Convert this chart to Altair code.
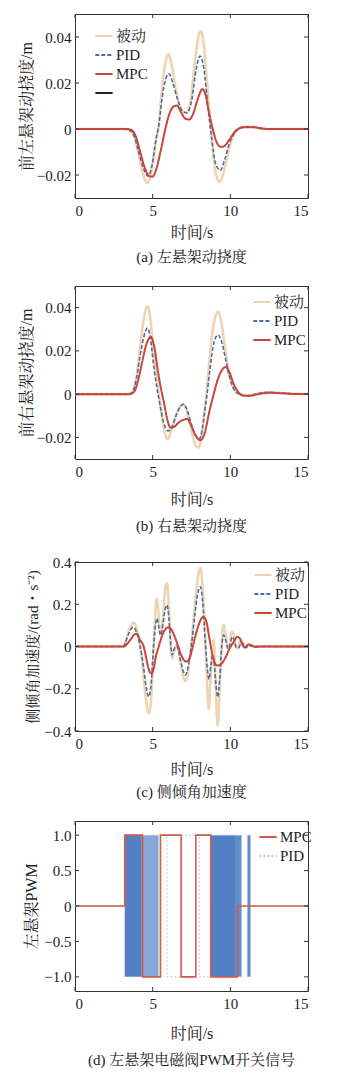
import altair as alt
import pandas as pd

FONT = "Liberation Serif, 'Noto Serif CJK SC', 'Noto Sans CJK SC', serif"

C_PASSIVE = "#edd5b4"
C_PID = "#4f6c9f"
C_MPC = "#c8463c"

X_TICKS = [0, 5, 10, 15]

# ---------- (a) 左悬架动挠度 ----------
A_PASSIVE = [(0, 0), (3.0, 0), (3.5, -0.0005), (3.8, -0.003), (4.1, -0.011), (4.4, -0.02), (4.65, -0.0235),
             (4.9, -0.019), (5.2, -0.006), (5.4, 0.002), (5.6, 0.018), (5.8, 0.028), (6.0, 0.0325), (6.25, 0.027),
             (6.5, 0.017), (6.8, 0.009), (7.15, 0.0072), (7.45, 0.013), (7.75, 0.031), (8.0, 0.0418), (8.1, 0.0425),
             (8.3, 0.036), (8.5, 0.02), (8.75, 0.0), (9.0, -0.017), (9.3, -0.023), (9.6, -0.018), (9.9, -0.009),
             (10.2, -0.003), (10.5, 0.0), (10.8, 0.0008), (11.3, 0.001), (12.0, 0.0003), (12.5, 0), (15, 0)]
A_PID = [(0, 0), (3.0, 0), (3.5, -0.0005), (3.8, -0.003), (4.1, -0.010), (4.4, -0.017), (4.7, -0.0205),
         (4.95, -0.016), (5.2, -0.005), (5.4, 0.002), (5.6, 0.013), (5.85, 0.022), (6.05, 0.024), (6.3, 0.020),
         (6.6, 0.013), (6.9, 0.008), (7.2, 0.007), (7.5, 0.012), (7.8, 0.026), (8.05, 0.0317), (8.3, 0.026),
         (8.55, 0.01), (8.8, -0.004), (9.05, -0.015), (9.35, -0.018), (9.65, -0.013), (9.95, -0.006),
         (10.3, -0.0015), (10.6, 0.0003), (11.0, 0.001), (11.5, 0.0008), (12.2, 0.0002), (12.6, 0), (15, 0)]
A_MPC = [(0, 0), (3.3, 0), (3.6, -0.0003), (3.9, -0.003), (4.2, -0.01), (4.5, -0.017), (4.8, -0.0205),
         (5.0, -0.0207), (5.25, -0.017), (5.5, -0.01), (5.75, -0.002), (5.85, 0.001), (6.1, 0.007),
         (6.35, 0.0098), (6.55, 0.0102), (6.85, 0.007), (7.1, 0.0045), (7.35, 0.0041), (7.6, 0.0065),
         (7.9, 0.013), (8.2, 0.0173), (8.4, 0.015), (8.6, 0.008), (8.87, 0.0), (9.1, -0.0055), (9.4, -0.0078),
         (9.65, -0.0072), (9.95, -0.0045), (10.25, -0.0015), (10.5, 0), (10.9, 0.0008), (11.5, 0.0008),
         (12.0, 0.0002), (12.5, 0), (15, 0)]
A_YTICKS = [-0.02, 0, 0.02, 0.04]

# ---------- (b) 右悬架动挠度 ----------
B_PASSIVE = [(0, 0), (3.4, 0), (3.7, 0.001), (3.95, 0.008), (4.2, 0.022), (4.45, 0.036), (4.66, 0.0405),
             (4.85, 0.035), (5.05, 0.020), (5.25, 0.008), (5.45, -0.003), (5.7, -0.015), (5.95, -0.0208),
             (6.2, -0.017), (6.5, -0.010), (6.8, -0.0055), (7.0, -0.0047), (7.2, -0.008), (7.5, -0.017),
             (7.75, -0.0235), (7.97, -0.0247), (8.15, -0.019), (8.3, -0.01), (8.46, 0.0), (8.65, 0.015),
             (8.85, 0.029), (9.05, 0.036), (9.21, 0.0382), (9.4, 0.034), (9.65, 0.022), (9.9, 0.010),
             (10.2, 0.003), (10.6, 0.0), (10.9, -0.0008), (11.3, -0.0006), (11.8, 0.0003), (12.5, 0.0008),
             (13.3, 0.0005), (14.0, 0.0002), (15, 0)]
B_PID = [(0, 0), (3.4, 0), (3.7, 0.001), (3.95, 0.007), (4.2, 0.018), (4.45, 0.027), (4.66, 0.0305),
         (4.85, 0.026), (5.05, 0.014), (5.25, 0.004), (5.45, -0.004), (5.7, -0.013), (6.0, -0.017),
         (6.25, -0.015), (6.5, -0.010), (6.8, -0.0055), (7.0, -0.0047), (7.2, -0.007), (7.5, -0.014),
         (7.8, -0.0195), (8.0, -0.0208), (8.2, -0.016), (8.35, -0.008), (8.5, 0.0), (8.7, 0.012),
         (8.95, 0.024), (9.21, 0.0274), (9.45, 0.024), (9.7, 0.016), (9.95, 0.008), (10.25, 0.002),
         (10.55, 0.0), (10.9, -0.0008), (11.3, -0.0006), (11.8, 0.0003), (12.5, 0.0008), (13.3, 0.0005),
         (14.0, 0.0002), (15, 0)]
B_MPC = [(0, 0), (3.5, 0), (3.8, 0.001), (4.05, 0.006), (4.3, 0.014), (4.55, 0.022), (4.88, 0.0265),
         (5.1, 0.022), (5.35, 0.010), (5.55, 0.002), (5.73, -0.004), (5.95, -0.012), (6.15, -0.0155),
         (6.4, -0.015), (6.7, -0.013), (7.0, -0.0118), (7.22, -0.0115), (7.45, -0.014), (7.75, -0.019),
         (8.08, -0.0213), (8.35, -0.018), (8.65, -0.008), (8.93, 0.0), (9.2, 0.007), (9.45, 0.011),
         (9.7, 0.0125), (9.95, 0.010), (10.2, 0.005), (10.5, 0.001), (10.8, -0.0005), (11.2, -0.0008),
         (11.8, 0.0), (12.5, 0.0006), (13.3, 0.0004), (14.0, 0.0001), (15, 0)]
B_YTICKS = [-0.02, 0, 0.02, 0.04]

# ---------- (c) 侧倾角加速度 ----------
C_PASSIVE_PTS = [(0, 0), (3.1, 0), (3.25, 0.02), (3.45, 0.07), (3.65, 0.105), (3.78, 0.113), (3.95, 0.09),
                 (4.15, 0.02), (4.35, -0.09), (4.55, -0.24), (4.74, -0.316), (4.9, -0.25), (5.06, 0.0),
                 (5.18, 0.17), (5.26, 0.225), (5.36, 0.17), (5.48, 0.075), (5.56, 0.062), (5.68, 0.15),
                 (5.82, 0.28), (5.92, 0.299), (6.02, 0.22), (6.15, 0.03), (6.25, -0.056), (6.38, -0.02),
                 (6.55, 0.007), (6.72, -0.04), (6.9, -0.12), (7.1, -0.163), (7.3, -0.11), (7.5, 0.02),
                 (7.7, 0.18), (7.9, 0.32), (8.07, 0.37), (8.22, 0.28), (8.38, 0.05), (8.5, -0.17),
                 (8.61, -0.295), (8.72, -0.17), (8.85, 0.0), (8.93, 0.03), (9.02, -0.1), (9.1, -0.28),
                 (9.19, -0.372), (9.3, -0.22), (9.45, 0.02), (9.57, 0.102), (9.7, 0.06), (9.85, -0.005),
                 (9.95, 0.01), (10.1, 0.07), (10.2, 0.06), (10.35, 0.0), (10.5, -0.01), (10.65, 0.03),
                 (10.8, 0.02), (11.0, -0.005), (11.2, 0.008), (11.5, 0.002), (12.0, 0), (15, 0)]
C_PID_PTS = [(0, 0), (3.1, 0), (3.25, 0.02), (3.45, 0.06), (3.65, 0.087), (3.78, 0.091), (3.95, 0.07),
             (4.2, 0.0), (4.4, -0.09), (4.58, -0.19), (4.74, -0.238), (4.9, -0.18), (5.06, 0.0), (5.18, 0.1),
             (5.28, 0.133), (5.4, 0.09), (5.5, 0.054), (5.65, 0.1), (5.8, 0.175), (5.92, 0.196), (6.05, 0.13),
             (6.17, 0.0), (6.25, -0.04), (6.4, -0.01), (6.55, 0.002), (6.72, -0.04), (6.9, -0.1),
             (7.1, -0.135), (7.3, -0.09), (7.5, 0.01), (7.7, 0.14), (7.9, 0.25), (8.07, 0.283), (8.22, 0.21),
             (8.38, 0.03), (8.5, -0.09), (8.63, -0.155), (8.75, -0.09), (8.87, -0.04), (8.95, -0.07),
             (9.05, -0.16), (9.2, -0.24), (9.32, -0.15), (9.45, 0.0), (9.57, 0.054), (9.7, 0.03),
             (9.85, -0.01), (9.97, 0.005), (10.12, 0.045), (10.25, 0.03), (10.4, -0.005), (10.55, -0.005),
             (10.7, 0.02), (10.85, 0.01), (11.0, -0.005), (11.2, 0.005), (11.5, 0.0), (15, 0)]
C_MPC_PTS = [(0, 0), (3.15, 0), (3.35, 0.012), (3.6, 0.035), (3.8, 0.055), (3.95, 0.06), (4.2, 0.03),
             (4.42, 0.0), (4.6, -0.06), (4.78, -0.115), (4.91, -0.127), (5.05, -0.11), (5.2, -0.05),
             (5.39, 0.0), (5.6, 0.05), (5.8, 0.08), (5.97, 0.09), (6.15, 0.085), (6.4, 0.05), (6.65, 0.0),
             (6.9, -0.05), (7.15, -0.072), (7.35, -0.06), (7.55, -0.01), (7.75, 0.05), (8.0, 0.11),
             (8.25, 0.141), (8.45, 0.12), (8.65, 0.04), (8.85, -0.04), (9.05, -0.085), (9.2, -0.09),
             (9.45, -0.08), (9.7, -0.05), (9.95, -0.01), (10.2, 0.02), (10.45, 0.046), (10.6, 0.04),
             (10.8, 0.005), (10.95, -0.005), (11.15, 0.01), (11.35, 0.006), (11.6, -0.002), (12.0, 0), (15, 0)]
C_YTICKS = [-0.4, -0.2, 0, 0.2, 0.4]

# ---------- (d) 左悬架电磁阀PWM开关信号 ----------
D_MPC_T = [0, 3.2, 4.35, 5.5, 6.83, 7.78, 8.75, 10.45, 15]
D_MPC_V = [0, 1, -1, 1, -1, 1, -1, 0, 0]
D_PID_T = [0, 3.2, 5.38, 5.92, 6.88, 8.0, 8.7, 10.72, 11.1, 11.3, 15]
D_PID_V = [0, 1, 1, -1, 1, -1, 1, 0, 1, 0, 0]
# dense PID switching regions (start, end, shade)
D_BAND_START = [3.2, 4.37, 8.7, 10.3, 11.1]
D_BAND_END = [4.3, 5.38, 10.3, 10.72, 11.3]
D_BAND_SHADE = ["dark", "light", "dark", "mid", "mid"]
D_YTICKS = [-1.0, -0.5, 0, 0.5, 1.0]


def axis_x(tpad):
    return alt.Axis(values=X_TICKS, title="时间/s", ticks=False, domain=False, grid=False,
                    labelFont=FONT, labelFontSize=15, labelColor="#222", labelPadding=5,
                    titleFont=FONT, titleFontSize=16, titleFontWeight="normal", titleColor="#222",
                    titlePadding=tpad)


def axis_y(vals, title, dec, tpad, tsize=16):
    return alt.Axis(values=vals, title=title, ticks=False, domain=False, grid=False,
                    labelExpr=f"datum.value == 0 ? '0' : format(datum.value, '.{dec}f')",
                    labelFont=FONT, labelFontSize=15, labelColor="#222", labelPadding=4,
                    titleFont=FONT, titleFontSize=tsize, titleFontWeight="normal", titleColor="#222",
                    titlePadding=tpad)


def tick_layers(yvals, xscale, yscale, w, h, xax, yax):
    xt = pd.DataFrame({"t": X_TICKS})
    yt = pd.DataFrame({"v": yvals})
    base_x = alt.Chart(xt).mark_rule(color="#333", strokeWidth=1)
    base_y = alt.Chart(yt).mark_rule(color="#333", strokeWidth=1)
    return [
        base_x.encode(x=alt.X("t:Q", scale=xscale, axis=xax), y=alt.value(h), y2=alt.value(h - 4)),
        base_x.encode(x=alt.X("t:Q", scale=xscale, axis=xax), y=alt.value(0), y2=alt.value(4)),
        base_y.encode(y=alt.Y("v:Q", scale=yscale, axis=yax), x=alt.value(0), x2=alt.value(4)),
        base_y.encode(y=alt.Y("v:Q", scale=yscale, axis=yax), x=alt.value(w), x2=alt.value(w - 4)),
    ]


def caption(text, offset):
    return alt.TitleParams(text=text, orient="bottom", anchor="middle", font=FONT, fontSize=15,
                           fontWeight="normal", color="#222", offset=offset)


def legend(lx, ly):
    return alt.Legend(title=None, orient="none", legendX=lx, legendY=ly, labelFont=FONT, labelFontSize=15,
                      labelColor="#222", symbolType="stroke", symbolSize=300, symbolStrokeWidth=2,
                      rowPadding=1, labelOffset=2, padding=0)


def line_panel(series, ydom, yticks, dec, ytitle, cap, lx, ly, w, h, ytpad, xtpad, cap_off,
               extra=False, ytsize=16):
    rows = []
    for name, pts in series:
        for t, v in pts:
            rows.append({"t": t, "v": v, "s": name})
    df = pd.DataFrame(rows)
    dom = ["被动", "PID", "MPC"] + ([" "] if extra else [])
    colors = [C_PASSIVE, C_PID, C_MPC] + (["#222"] if extra else [])
    dashes = [[1, 0], [4, 2], [1, 0]] + ([[1, 0]] if extra else [])
    widths = {"被动": 2.6, "PID": 1.6, "MPC": 2.0}
    xscale = alt.Scale(domain=[0, 15], nice=False, zero=False)
    yscale = alt.Scale(domain=ydom, nice=False, zero=False)
    xax = axis_x(xtpad)
    yax = axis_y(yticks, ytitle, dec, ytpad, ytsize)
    leg = legend(lx, ly)
    layers = []
    for name, _ in series:
        layers.append(
            alt.Chart(df).transform_filter(alt.datum.s == name)
            .mark_line(interpolate="monotone", strokeWidth=widths[name], clip=True)
            .encode(
                x=alt.X("t:Q", scale=xscale, axis=xax),
                y=alt.Y("v:Q", scale=yscale, axis=yax),
                color=alt.Color("s:N", scale=alt.Scale(domain=dom, range=colors), legend=leg),
                strokeDash=alt.StrokeDash("s:N", scale=alt.Scale(domain=dom, range=dashes), legend=leg),
            )
        )
    layers += tick_layers(yticks, xscale, yscale, w, h, xax, yax)
    return alt.layer(*layers).properties(width=w, height=h, title=caption(cap, cap_off))


W = 233

pa = line_panel([("被动", A_PASSIVE), ("PID", A_PID), ("MPC", A_MPC)], [-0.03, 0.05], A_YTICKS, 2,
                "前左悬架动挠度/m", "(a) 左悬架动挠度", 19, 12, W, 184, 2, 6, 10, extra=True)
pb = line_panel([("被动", B_PASSIVE), ("PID", B_PID), ("MPC", B_MPC)], [-0.03, 0.05], B_YTICKS, 2,
                "前右悬架动挠度/m", "(b) 右悬架动挠度", 177, 6, W, 173, 2, 12, 12)
pc = line_panel([("被动", C_PASSIVE_PTS), ("PID", C_PID_PTS), ("MPC", C_MPC_PTS)], [-0.4, 0.4], C_YTICKS, 1,
                "侧倾角加速度/(rad・s⁻²)", "(c) 侧倾角加速度", 178, 3, W, 169, 3, 10, 8, ytsize=15)

# PWM panel
xs = alt.Scale(domain=[0, 15], nice=False, zero=False)
ys = alt.Scale(domain=[-1.2, 1.2], nice=False, zero=False)
shade_col = {"dark": "#4a78c2", "light": "#7fa2d6", "mid": "#5b86c8"}
bands = pd.DataFrame({"a": D_BAND_START, "b": D_BAND_END, "shade": D_BAND_SHADE,
                      "lo": [-1.0] * len(D_BAND_START), "hi": [1.0] * len(D_BAND_START)})
mpc_df = pd.DataFrame({"t": D_MPC_T, "v": D_MPC_V, "s": ["MPC"] * len(D_MPC_T)})
pid_df = pd.DataFrame({"t": D_PID_T, "v": D_PID_V, "s": ["PID"] * len(D_PID_T)})
dleg = legend(183, 6)
dcol = alt.Scale(domain=["MPC", "PID"], range=["#cf5a4c", "#b9c4d6"])
ddash = alt.Scale(domain=["MPC", "PID"], range=[[1, 0], [2, 2]])
d_xax = axis_x(14)
d_yax = axis_y(D_YTICKS, "左悬架PWM", 1, 4)

band_layer = alt.Chart(bands).mark_rect(opacity=0.95).encode(
    x=alt.X("a:Q", scale=xs, axis=d_xax), x2="b:Q",
    y=alt.Y("lo:Q", scale=ys, axis=d_yax), y2="hi:Q",
    fill=alt.Fill("shade:N", scale=alt.Scale(domain=list(shade_col.keys()), range=list(shade_col.values())),
                  legend=None),
)
pid_layer = alt.Chart(pid_df).mark_line(interpolate="step-after", strokeWidth=1.0).encode(
    x=alt.X("t:Q", scale=xs, axis=d_xax), y=alt.Y("v:Q", scale=ys, axis=d_yax),
    color=alt.Color("s:N", scale=dcol, legend=dleg), strokeDash=alt.StrokeDash("s:N", scale=ddash, legend=dleg))
mpc_layer = alt.Chart(mpc_df).mark_line(interpolate="step-after", strokeWidth=1.6).encode(
    x=alt.X("t:Q", scale=xs, axis=d_xax), y=alt.Y("v:Q", scale=ys, axis=d_yax),
    color=alt.Color("s:N", scale=dcol, legend=dleg), strokeDash=alt.StrokeDash("s:N", scale=ddash, legend=dleg))
pd_ = alt.layer(band_layer, pid_layer, mpc_layer, *tick_layers(D_YTICKS, xs, ys, W, 170, d_xax, d_yax)).properties(
    width=W, height=170, title=caption("(d) 左悬架电磁阀PWM开关信号", 12))

chart = alt.vconcat(pa, pb, pc, pd_, spacing=19).resolve_scale(
    color="independent", strokeDash="independent", fill="independent"
).resolve_legend(
    color="independent", strokeDash="independent", fill="independent"
).properties(
    padding={"left": 17, "top": 13, "right": 5, "bottom": 5},
    background="white",
).configure_view(stroke="#333", strokeWidth=1)

chart.save("out.html", embed_options={"renderer": "svg", "actions": False})
